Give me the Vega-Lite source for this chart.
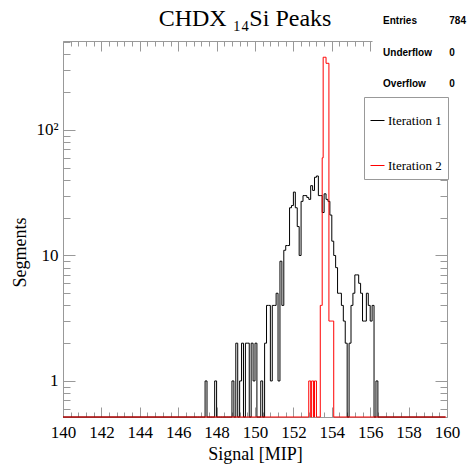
{
  "$schema": "https://vega.github.io/schema/vega-lite/v6.json",
  "width": 384,
  "height": 376,
  "autosize": {"type": "none"},
  "padding": {"left": 63, "top": 41, "right": 20, "bottom": 48},
  "background": "white",
  "config": {"view": {"stroke": null}},
  "title": {"text": "CHDX ₁₄Si Peaks", "font": "Liberation Serif", "fontSize": 24, "fontWeight": "normal", "color": "black", "anchor": "middle", "dx": -10, "offset": -15},
  "layer": [
    {
      "data": {"values": [
        {"s":"Iteration 1","x":140,"n":0},
        {"s":"Iteration 1","x":147.0,"n":0},{"s":"Iteration 1","x":147.1,"n":0},{"s":"Iteration 1","x":147.2,"n":0},{"s":"Iteration 1","x":147.3,"n":0},{"s":"Iteration 1","x":147.4,"n":1},{"s":"Iteration 1","x":147.5,"n":0},{"s":"Iteration 1","x":147.6,"n":0},{"s":"Iteration 1","x":147.7,"n":0},{"s":"Iteration 1","x":147.8,"n":0},{"s":"Iteration 1","x":147.9,"n":1},
        {"s":"Iteration 1","x":148.0,"n":0},{"s":"Iteration 1","x":148.1,"n":0},{"s":"Iteration 1","x":148.2,"n":0},{"s":"Iteration 1","x":148.3,"n":0},{"s":"Iteration 1","x":148.4,"n":0},{"s":"Iteration 1","x":148.5,"n":0},{"s":"Iteration 1","x":148.6,"n":0},{"s":"Iteration 1","x":148.7,"n":0},{"s":"Iteration 1","x":148.8,"n":1},{"s":"Iteration 1","x":148.9,"n":0},
        {"s":"Iteration 1","x":149.0,"n":2},{"s":"Iteration 1","x":149.1,"n":0},{"s":"Iteration 1","x":149.2,"n":1},{"s":"Iteration 1","x":149.3,"n":2},{"s":"Iteration 1","x":149.4,"n":0},{"s":"Iteration 1","x":149.5,"n":2},{"s":"Iteration 1","x":149.6,"n":2},{"s":"Iteration 1","x":149.7,"n":0},{"s":"Iteration 1","x":149.8,"n":2},{"s":"Iteration 1","x":149.9,"n":1},
        {"s":"Iteration 1","x":150.0,"n":2},{"s":"Iteration 1","x":150.1,"n":0},{"s":"Iteration 1","x":150.2,"n":0},{"s":"Iteration 1","x":150.3,"n":1},{"s":"Iteration 1","x":150.4,"n":0},{"s":"Iteration 1","x":150.5,"n":2},{"s":"Iteration 1","x":150.6,"n":4},{"s":"Iteration 1","x":150.7,"n":4},{"s":"Iteration 1","x":150.8,"n":1},{"s":"Iteration 1","x":150.9,"n":4},
        {"s":"Iteration 1","x":151.0,"n":4},{"s":"Iteration 1","x":151.1,"n":5},{"s":"Iteration 1","x":151.2,"n":1},{"s":"Iteration 1","x":151.3,"n":9},{"s":"Iteration 1","x":151.4,"n":4},{"s":"Iteration 1","x":151.5,"n":11},{"s":"Iteration 1","x":151.6,"n":12},{"s":"Iteration 1","x":151.7,"n":12},{"s":"Iteration 1","x":151.8,"n":24},{"s":"Iteration 1","x":151.9,"n":25},
        {"s":"Iteration 1","x":152.0,"n":32},{"s":"Iteration 1","x":152.1,"n":24},{"s":"Iteration 1","x":152.2,"n":17},{"s":"Iteration 1","x":152.3,"n":10},{"s":"Iteration 1","x":152.4,"n":27},{"s":"Iteration 1","x":152.5,"n":30},{"s":"Iteration 1","x":152.6,"n":30},{"s":"Iteration 1","x":152.7,"n":29},{"s":"Iteration 1","x":152.8,"n":28},{"s":"Iteration 1","x":152.9,"n":36},
        {"s":"Iteration 1","x":153.0,"n":33},{"s":"Iteration 1","x":153.1,"n":42},{"s":"Iteration 1","x":153.2,"n":43},{"s":"Iteration 1","x":153.3,"n":30},{"s":"Iteration 1","x":153.4,"n":30},{"s":"Iteration 1","x":153.5,"n":22},{"s":"Iteration 1","x":153.6,"n":31},{"s":"Iteration 1","x":153.7,"n":28},{"s":"Iteration 1","x":153.8,"n":27},{"s":"Iteration 1","x":153.9,"n":21},
        {"s":"Iteration 1","x":154.0,"n":13},{"s":"Iteration 1","x":154.1,"n":10},{"s":"Iteration 1","x":154.2,"n":8},{"s":"Iteration 1","x":154.3,"n":5},{"s":"Iteration 1","x":154.4,"n":5},{"s":"Iteration 1","x":154.5,"n":4},{"s":"Iteration 1","x":154.6,"n":3},{"s":"Iteration 1","x":154.7,"n":2},{"s":"Iteration 1","x":154.8,"n":0},{"s":"Iteration 1","x":154.9,"n":2},
        {"s":"Iteration 1","x":155.0,"n":4},{"s":"Iteration 1","x":155.1,"n":5},{"s":"Iteration 1","x":155.2,"n":7},{"s":"Iteration 1","x":155.3,"n":7},{"s":"Iteration 1","x":155.4,"n":6},{"s":"Iteration 1","x":155.5,"n":5},{"s":"Iteration 1","x":155.6,"n":3},{"s":"Iteration 1","x":155.7,"n":3},{"s":"Iteration 1","x":155.8,"n":5},{"s":"Iteration 1","x":155.9,"n":4},
        {"s":"Iteration 1","x":156.0,"n":3},{"s":"Iteration 1","x":156.1,"n":4},{"s":"Iteration 1","x":156.2,"n":0},{"s":"Iteration 1","x":156.3,"n":1},{"s":"Iteration 1","x":156.4,"n":0},
        {"s":"Iteration 1","x":159.9,"n":0},
        {"s":"Iteration 2","x":140,"n":0},
        {"s":"Iteration 2","x":152.75,"n":0},{"s":"Iteration 2","x":152.8,"n":1},{"s":"Iteration 2","x":152.85,"n":1},{"s":"Iteration 2","x":152.9,"n":0},{"s":"Iteration 2","x":152.95,"n":1},{"s":"Iteration 2","x":153.0,"n":1},{"s":"Iteration 2","x":153.05,"n":0},{"s":"Iteration 2","x":153.1,"n":1},{"s":"Iteration 2","x":153.15,"n":1},{"s":"Iteration 2","x":153.2,"n":0},
        {"s":"Iteration 2","x":153.25,"n":0},{"s":"Iteration 2","x":153.3,"n":0},{"s":"Iteration 2","x":153.35,"n":0},{"s":"Iteration 2","x":153.4,"n":4},{"s":"Iteration 2","x":153.45,"n":4},{"s":"Iteration 2","x":153.5,"n":60},{"s":"Iteration 2","x":153.55,"n":380},{"s":"Iteration 2","x":153.6,"n":380},{"s":"Iteration 2","x":153.65,"n":380},{"s":"Iteration 2","x":153.7,"n":340},
        {"s":"Iteration 2","x":153.75,"n":340},{"s":"Iteration 2","x":153.8,"n":340},{"s":"Iteration 2","x":153.85,"n":3},{"s":"Iteration 2","x":153.9,"n":3},{"s":"Iteration 2","x":153.95,"n":3},{"s":"Iteration 2","x":154.0,"n":3},{"s":"Iteration 2","x":154.05,"n":3},{"s":"Iteration 2","x":154.1,"n":0},
        {"s":"Iteration 2","x":159.95,"n":0}
      ]},
      "mark": {"type": "line", "interpolate": "step-after", "strokeWidth": 1},
      "encoding": {
        "x": {"field": "x", "type": "quantitative",
          "scale": {"domain": [140, 160], "nice": false, "zero": false},
          "axis": {"orient": "bottom", "title": "Signal [MIP]",
            "values": [140,140.4,140.8,141.2,141.6,142,142.4,142.8,143.2,143.6,144,144.4,144.8,145.2,145.6,146,146.4,146.8,147.2,147.6,148,148.4,148.8,149.2,149.6,150,150.4,150.8,151.2,151.6,152,152.4,152.8,153.2,153.6,154,154.4,154.8,155.2,155.6,156,156.4,156.8,157.2,157.6,158,158.4,158.8,159.2,159.6,160],
            "labelExpr": "datum.value % 2 == 0 ? format(datum.value, 'd') : ''",
            "tickSize": {"condition": {"test": "datum.value % 2 == 0", "value": -10}, "value": -5},
            "labelPadding": 17, "labelFont": "Liberation Serif", "labelFontSize": 17, "labelColor": "black",
            "labelOverlap": false, "labelFlush": false,
            "titleFont": "Liberation Serif", "titleFontSize": 18, "titleFontWeight": "normal", "titleColor": "black", "titlePadding": 0,
            "domainColor": "#999999", "tickColor": "#999999", "grid": false}},
        "y": {"field": "n", "type": "quantitative",
          "scale": {"type": "log", "domain": [0.516, 512], "clamp": true, "nice": false},
          "axis": {"orient": "left", "title": "Segments",
            "values": [0.6,0.7,0.8,0.9,1,2,3,4,5,6,7,8,9,10,20,30,40,50,60,70,80,90,100,200,300,400,500],
            "labelExpr": "datum.value == 1 ? '1' : datum.value == 10 ? '10' : datum.value == 100 ? '10²' : ''",
            "tickSize": {"condition": {"test": "datum.value == 1 || datum.value == 10 || datum.value == 100", "value": -12}, "value": -7},
            "labelPadding": 17, "labelFont": "Liberation Serif", "labelFontSize": 17, "labelColor": "black", "labelOverlap": false, "labelFlush": false,
            "titleFont": "Liberation Serif", "titleFontSize": 18, "titleFontWeight": "normal", "titleColor": "black", "titlePadding": 6, "titleY": 211,
            "domainColor": "#999999", "tickColor": "#999999", "grid": false}},
        "color": {"field": "s", "type": "nominal",
          "scale": {"domain": ["Iteration 1", "Iteration 2"], "range": ["#000000", "#ff0000"]},
          "legend": {"orient": "none", "legendX": 301, "legendY": 56, "title": " ", "titleFontSize": 8, "titlePadding": 2,
            "symbolType": "stroke", "symbolStrokeWidth": 1, "symbolSize": 196,
            "labelFont": "Liberation Serif", "labelFontSize": 13, "labelColor": "black", "labelOffset": 3,
            "strokeColor": "#999999", "fillColor": "white", "padding": 6, "rowPadding": 30}}
      }
    },
    {
      "data": {"values": [{}]},
      "mark": {"type": "rect", "fill": "white", "clip": false},
      "encoding": {
        "x": {"datum": 156.12, "type": "quantitative", "scale": {"domain": [140, 160], "nice": false, "zero": false},
          "axis": {"orient": "top", "title": null, "labels": false,
            "values": [140,140.4,140.8,141.2,141.6,142,142.4,142.8,143.2,143.6,144,144.4,144.8,145.2,145.6,146,146.4,146.8,147.2,147.6,148,148.4,148.8,149.2,149.6,150,150.4,150.8,151.2,151.6,152,152.4,152.8,153.2,153.6,154,154.4,154.8,155.2,155.6,156,156.4,156.8,157.2,157.6,158,158.4,158.8,159.2,159.6,160],
            "tickSize": {"condition": {"test": "datum.value % 2 == 0", "value": -10}, "value": -5},
            "domainColor": "#999999", "tickColor": "#999999", "grid": false}},
        "x2": {"datum": 161.2},
        "y": {"datum": 183, "type": "quantitative", "scale": {"type": "log", "domain": [0.516, 512], "nice": false},
          "axis": {"orient": "right", "title": null, "labels": false,
            "values": [0.6,0.7,0.8,0.9,1,2,3,4,5,6,7,8,9,10,20,30,40,50,60,70,80,90,100,200,300,400,500],
            "tickSize": {"condition": {"test": "datum.value == 1 || datum.value == 10 || datum.value == 100", "value": -12}, "value": -7},
            "domainColor": "#999999", "tickColor": "#999999", "grid": false}},
        "y2": {"datum": 512}
      }
    },
    {
      "data": {"values": [{}]},
      "mark": {"type": "text", "text": ["Entries", "Underflow", "Overflow"], "lineHeight": 31.5, "align": "left", "baseline": "alphabetic", "dy": -17, "font": "Liberation Sans", "fontWeight": "bold", "fontSize": 10, "color": "black"},
      "encoding": {
        "x": {"datum": 156.67, "type": "quantitative", "scale": {"domain": [140, 160], "nice": false, "zero": false}, "axis": null},
        "y": {"datum": 512, "type": "quantitative", "scale": {"type": "log", "domain": [0.516, 512], "nice": false}, "axis": null}
      }
    },
    {
      "data": {"values": [{}]},
      "mark": {"type": "text", "text": ["784", "0", "0"], "lineHeight": 31.5, "align": "left", "baseline": "alphabetic", "dy": -17, "font": "Liberation Sans", "fontWeight": "bold", "fontSize": 10, "color": "black"},
      "encoding": {
        "x": {"datum": 160.12, "type": "quantitative", "scale": {"domain": [140, 160], "nice": false, "zero": false}, "axis": null},
        "y": {"datum": 512, "type": "quantitative", "scale": {"type": "log", "domain": [0.516, 512], "nice": false}, "axis": null}
      }
    }
  ],
  "resolve": {"axis": {"x": "independent", "y": "independent"}}
}
